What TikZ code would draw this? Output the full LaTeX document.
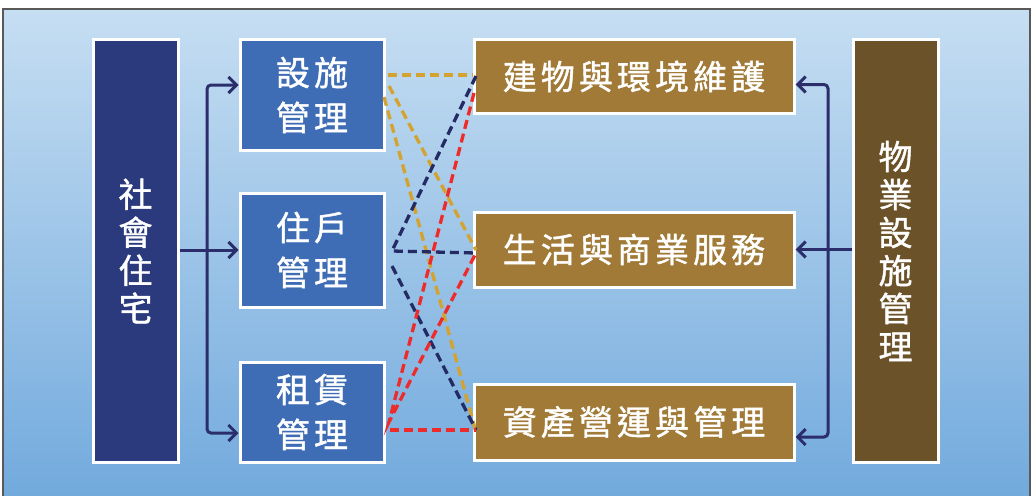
\documentclass[tikz,border=0pt]{standalone}
\usepackage{fontspec}
\newfontfamily\cjk{Noto Sans CJK TC}[FakeBold=1.2, LetterSpace=12]
\usetikzlibrary{arrows.meta,shadows,calc}
\definecolor{navybox}{HTML}{2A3A7C}
\definecolor{bluebox}{HTML}{3E6DB5}
\definecolor{brownbox}{HTML}{A07A36}
\definecolor{darkbrown}{HTML}{6C5229}
\definecolor{arrowc}{HTML}{2C2D6B}
\definecolor{goldd}{HTML}{D4A22E}
\definecolor{navyd}{HTML}{242A64}
\definecolor{redd}{HTML}{EE2B2B}
\definecolor{bgtop}{HTML}{C6DEF2}
\definecolor{bgbot}{HTML}{72AADD}
\tikzset{
  box/.style={draw=white, line width=3pt, text=white, align=center, inner sep=0pt,
    drop shadow={opacity=0.25, shadow xshift=2pt, shadow yshift=-2pt}},
  tallbox/.style={box, minimum width=85, minimum height=422,
    font=\cjk\fontsize{34}{38}\selectfont},
  bluenode/.style={box, fill=bluebox, minimum width=144,
    font=\cjk\fontsize{34}{45}\selectfont},
  brownnode/.style={box, fill=brownbox, minimum width=320,
    font=\cjk\fontsize{34}{40}\selectfont},
  linkarrow/.style={draw=arrowc, line width=3pt, rounded corners=4pt,
    arrows={-Straight Barb[length=8pt,width=16pt,line width=3pt]}},
  dlink/.style={line width=3.3pt, dash pattern=on 9pt off 5pt},
}
\begin{document}
\begin{tikzpicture}[x=1pt,y=-1pt]
\useasboundingbox (0,0) rectangle (1032,495);
\fill[white] (0,0) rectangle (1032,495);
\shade[top color=bgtop, bottom color=bgbot] (3,9) rectangle (1030,497);
\draw[gray!70!black, line width=1.2pt] (3,497) -- (3,9) -- (1030,9) -- (1030,497);

% left column
\node[tallbox, fill=navybox] (sh) at (135.5,251) {社\\會\\住\\宅};
\node[bluenode, minimum height=110] (b1) at (312,95) {設施\\管理};
\node[bluenode, minimum height=114] (b2) at (312,250) {住戶\\管理};
\node[bluenode, minimum height=100] (b3) at (312,412) {租賃\\管理};

% right column
\node[brownnode, minimum height=73] (r1) at (634,76.5) {建物與環境維護};
\node[brownnode, minimum height=75] (r2) at (634,249.5) {生活與商業服務};
\node[brownnode, minimum height=76] (r3) at (634,422) {資產營運與管理};
\node[tallbox, fill=darkbrown] (pm) at (895.5,251) {物\\業\\設\\施\\管\\理};

% left arrows
\coordinate (lt) at (207,250);
\coordinate (la1) at ($(b1.west)+(0,-10)$);
\coordinate (la3) at ($(b3.west)+(0,21)$);
\draw[linkarrow] (sh.east |- b2) -- (b2.west);
\draw[linkarrow, arrows={Straight Barb[length=8pt,width=16pt,line width=3pt]-Straight Barb[length=8pt,width=16pt,line width=3pt]}]
  (la1) -- (la1 -| lt) -- (la3 -| lt) -- (la3);

% right arrows
\coordinate (rt) at (828,250);
\coordinate (ra1) at ($(r1.east)+(0,8)$);
\coordinate (ra3) at ($(r3.east)+(0,15)$);
\draw[linkarrow] (pm.west |- r2) -- (r2.east);
\draw[linkarrow, arrows={Straight Barb[length=8pt,width=16pt,line width=3pt]-Straight Barb[length=8pt,width=16pt,line width=3pt]}]
  (ra1) -- (ra1 -| rt) -- (ra3 -| rt) -- (ra3);

% dashed links
\coordinate (g0) at (388,75);
\coordinate (g1) at (389,86);
\coordinate (g2) at (384,97);
\coordinate (n0) at (392,251);
\coordinate (n1) at (392,266);
\coordinate (d0) at (389,422);
\coordinate (d1) at (390,430);
\coordinate (e1a) at (476,76);
\coordinate (e1b) at (474,93);
\coordinate (e2a) at (476,250);
\coordinate (e2b) at (476,253);
\coordinate (e3a) at (476,430);
\coordinate (e3b) at (476,432);

\draw[dlink, goldd] (g0) -- (r1.west |- g0);
\draw[dlink, goldd] (g1) -- (e2a);
\draw[dlink, goldd] (g2) -- (e3b);
\draw[dlink, navyd] (e1a) -- (n0) -- (e2b);
\draw[dlink, navyd] (n1) -- (e3a);
\draw[dlink, redd] (e1b) -- (d0) -- (e2b);
\draw[dlink, redd] (d1) -- (e3a);
\end{tikzpicture}
\end{document}
